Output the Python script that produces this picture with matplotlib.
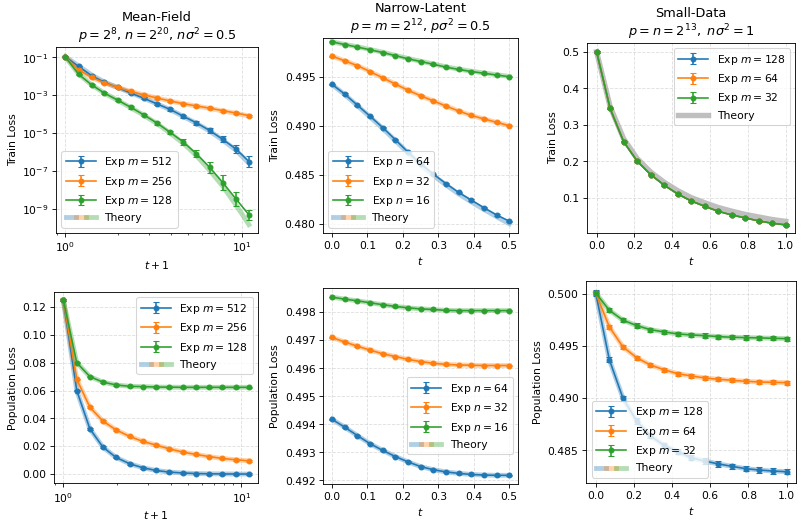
import matplotlib
matplotlib.use("Agg")
import matplotlib.pyplot as plt
import numpy as np
from matplotlib.lines import Line2D
from matplotlib.legend_handler import HandlerTuple

# ---------------- data ----------------
colors = ["C0", "C1", "C2"]

# Mean-Field (x = t+1, log scale)
mf_x = [1.0, 1.19, 1.41, 1.67, 1.98, 2.36, 2.80, 3.32, 3.94, 4.68, 5.55, 6.59, 7.82, 9.27, 11.0]
mf_labels = ["Exp $m=512$", "Exp $m=256$", "Exp $m=128$"]
mf_train = [
    [1.1e-1, 3.4e-2, 1.1e-2, 4.8e-3, 2.6e-3, 1.3e-3, 6.9e-4, 3.5e-4, 1.8e-4, 7.8e-5, 3.5e-5, 1.4e-5, 4.7e-6, 1.5e-6, 3.2e-7],
    [1.1e-1, 2.2e-2, 8.9e-3, 4.5e-3, 2.6e-3, 1.6e-3, 1.05e-3, 7.2e-4, 5.0e-4, 3.6e-4, 2.75e-4, 2.1e-4, 1.55e-4, 1.17e-4, 8.5e-5],
    [1.1e-1, 1.3e-2, 3.6e-3, 1.3e-3, 5.6e-4, 2.3e-4, 9.1e-5, 3.4e-5, 1.1e-5, 3.4e-6, 8.1e-7, 1.6e-7, 2.5e-8, 3.5e-9, 5.0e-10],
]
# error half-widths in decades
mf_train_err = [
    [0.02, 0.04, 0.04, 0.04, 0.04, 0.05, 0.05, 0.06, 0.07, 0.08, 0.10, 0.12, 0.16, 0.20, 0.30],
    [0.02, 0.03, 0.03, 0.03, 0.03, 0.03, 0.03, 0.03, 0.04, 0.04, 0.04, 0.04, 0.05, 0.05, 0.05],
    [0.02, 0.03, 0.04, 0.05, 0.05, 0.06, 0.07, 0.08, 0.10, 0.14, 0.18, 0.30, 0.38, 0.36, 0.26],
]
mf_train_th = [
    [1.1e-1, 3.6e-2, 1.2e-2, 5.0e-3, 2.6e-3, 1.35e-3, 7.0e-4, 3.5e-4, 1.75e-4, 7.6e-5, 3.3e-5, 1.3e-5, 4.3e-6, 1.3e-6, 2.6e-7],
    [1.1e-1, 2.3e-2, 9.0e-3, 4.5e-3, 2.6e-3, 1.6e-3, 1.05e-3, 7.2e-4, 5.0e-4, 3.6e-4, 2.7e-4, 2.05e-4, 1.5e-4, 1.13e-4, 8.2e-5],
    [1.1e-1, 1.35e-2, 3.6e-3, 1.3e-3, 5.5e-4, 2.2e-4, 8.7e-5, 3.2e-5, 1.0e-5, 2.9e-6, 6.5e-7, 1.1e-7, 1.6e-8, 1.7e-9, 1.5e-10],
]
mf_pop = [
    [0.125, 0.060, 0.0325, 0.0193, 0.0119, 0.0074, 0.0045, 0.0026, 0.0014, 0.0008, 0.0004, 0.0002, 0.0001, 0.00005, 0.0],
    [0.125, 0.068, 0.048, 0.038, 0.0317, 0.0270, 0.0234, 0.0208, 0.0181, 0.0158, 0.0141, 0.0126, 0.0112, 0.0103, 0.0095],
    [0.125, 0.080, 0.070, 0.066, 0.064, 0.063, 0.0628, 0.0625, 0.0624, 0.0623, 0.0623, 0.0623, 0.0623, 0.0623, 0.0623],
]
mf_pop_err = [0.0006, 0.0006, 0.0005]

# Narrow-Latent (x = t)
nl_x = [0.0, 0.0357, 0.0714, 0.1071, 0.1429, 0.1786, 0.2143, 0.25, 0.2857, 0.3214, 0.3571, 0.3929, 0.4286, 0.4643, 0.5]
nl_labels = ["Exp $n=64$", "Exp $n=32$", "Exp $n=16$"]
nl_train = [
    [0.49422, 0.49323, 0.49210, 0.49097, 0.48981, 0.48857, 0.48730, 0.48610, 0.48505, 0.48409, 0.48318, 0.48240, 0.48162, 0.48088, 0.48025],
    [0.49711, 0.49662, 0.49613, 0.49553, 0.49489, 0.49425, 0.49362, 0.49305, 0.49253, 0.49200, 0.49150, 0.49104, 0.49069, 0.49034, 0.48999],
    [0.49856, 0.49828, 0.49803, 0.49775, 0.49747, 0.49715, 0.49683, 0.49655, 0.49627, 0.49598, 0.49574, 0.49553, 0.49535, 0.49517, 0.49500],
]
nl_train_th = [
    [0.49420, 0.49318, 0.49205, 0.49090, 0.48972, 0.48848, 0.48722, 0.48600, 0.48493, 0.48395, 0.48303, 0.48222, 0.48144, 0.48070, 0.47998],
    [0.49711, 0.49662, 0.49613, 0.49553, 0.49489, 0.49425, 0.49362, 0.49305, 0.49253, 0.49200, 0.49150, 0.49104, 0.49069, 0.49034, 0.48999],
    [0.49856, 0.49830, 0.49806, 0.49778, 0.49750, 0.49718, 0.49686, 0.49658, 0.49630, 0.49601, 0.49577, 0.49556, 0.49538, 0.49520, 0.49502],
]
nl_train_err = [0.00006, 0.00005, 0.00004]
nl_pop = [
    [0.49418, 0.49390, 0.49360, 0.49331, 0.49307, 0.49285, 0.49266, 0.49249, 0.49238, 0.49230, 0.49225, 0.49221, 0.49219, 0.49218, 0.49218],
    [0.49710, 0.49694, 0.49679, 0.49665, 0.49652, 0.49642, 0.49632, 0.49624, 0.49618, 0.49614, 0.49612, 0.49611, 0.49610, 0.49610, 0.49610],
    [0.49854, 0.49847, 0.49841, 0.49834, 0.49827, 0.49821, 0.49816, 0.49812, 0.49810, 0.49807, 0.49806, 0.49806, 0.49806, 0.49806, 0.49806],
]
nl_pop_err = [0.000015, 0.000012, 0.00001]

# Small-Data (x = t)
sd_x = [0.0, 0.0714, 0.1429, 0.2143, 0.2857, 0.3571, 0.4286, 0.5, 0.5714, 0.6429, 0.7143, 0.7857, 0.8571, 0.9286, 1.0]
sd_labels = ["Exp $m=128$", "Exp $m=64$", "Exp $m=32$"]
sd_train = [0.500, 0.345, 0.254, 0.201, 0.164, 0.135, 0.111, 0.0918, 0.0773, 0.0636, 0.0536, 0.0455, 0.0373, 0.0309, 0.0264]
sd_train_th = [0.500, 0.350, 0.262, 0.208, 0.171, 0.143, 0.120, 0.101, 0.087, 0.074, 0.064, 0.055, 0.048, 0.041, 0.036]
sd_train_err = 0.002
sd_pop = [
    [0.50006, 0.49368, 0.48998, 0.48781, 0.48641, 0.48548, 0.48488, 0.48430, 0.48398, 0.48370, 0.48347, 0.48325, 0.48312, 0.48302, 0.48296],
    [0.50006, 0.49681, 0.49489, 0.49387, 0.49317, 0.49272, 0.49234, 0.49212, 0.49193, 0.49180, 0.49170, 0.49161, 0.49154, 0.49151, 0.49148],
    [0.50006, 0.49840, 0.49745, 0.49694, 0.49655, 0.49633, 0.49614, 0.49604, 0.49598, 0.49588, 0.49582, 0.49579, 0.49576, 0.49572, 0.49569],
]
sd_pop_err = [0.00025, 0.0002, 0.0002]

# ---------------- figure ----------------
DPI = 77.5
W, H = 804, 521
fig = plt.figure(figsize=((W + 0.2) / DPI, (H + 0.2) / DPI), dpi=DPI)


def add_ax(left, right, top, bottom):
    return fig.add_axes([left / W, 1 - bottom / H, (right - left) / W, (bottom - top) / H])


ax_tl = add_ax(56, 258, 47, 233)
ax_tm = add_ax(323, 518, 38, 233)
ax_tr = add_ax(587, 795, 43, 233)
ax_bl = add_ax(54, 258, 292, 483)
ax_bm = add_ax(323, 518, 288, 484)
ax_br = add_ax(586, 796, 281, 483)

TH_LW = 4.5
TH_ALPHA = 0.35
MS = 4.5


def theory_handle():
    return tuple(Line2D([], [], color=c, lw=TH_LW, alpha=TH_ALPHA) for c in colors)


def draw(ax, x, ys, errs, ths, labels):
    for y, th, c in zip(ys, ths, colors):
        ax.plot(x, th, color=c, lw=TH_LW, alpha=TH_ALPHA, zorder=1)
    handles = []
    for y, e, c, lab in zip(ys, errs, colors, labels):
        h = ax.errorbar(x, y, yerr=e, fmt="o-", color=c, ms=MS, lw=1.5, capsize=3, label=lab, zorder=3)
        handles.append(h)
    return handles


def finish(ax, handles, th_handle, **legkw):
    ax.grid(True, linestyle="--", alpha=0.4)
    ax.legend(handles + [th_handle], [h.get_label() for h in handles] + ["Theory"],
              handler_map={tuple: HandlerTuple(ndivide=None, pad=0)}, handlelength=2.8, **legkw)


# Mean-Field train (log-log)
mf_tr_err = []
for y, e in zip(mf_train, mf_train_err):
    y = np.array(y)
    e = np.array(e)
    mf_tr_err.append([y - y * 10 ** (-e), y * 10 ** e - y])
h = draw(ax_tl, mf_x, mf_train, mf_tr_err, mf_train_th, mf_labels)
ax_tl.set_xscale("log")
ax_tl.set_yscale("log")
ax_tl.set_yticks([1e-1, 1e-3, 1e-5, 1e-7, 1e-9])
ax_tl.set_ylim(10 ** -10.26, 10 ** -0.44)
ax_tl.set_title("Mean-Field\n$p=2^8$, $n=2^{20}$, $n\\sigma^2=0.5$")
ax_tl.set_xlabel("$t+1$")
ax_tl.set_ylabel("Train Loss")
finish(ax_tl, h, theory_handle(), loc="lower left")

# Mean-Field population
h = draw(ax_bl, mf_x, mf_pop, mf_pop_err, mf_pop, mf_labels)
ax_bl.set_xscale("log")
ax_bl.set_ylim(-0.0064, 0.1308)
ax_bl.set_xlabel("$t+1$")
ax_bl.set_ylabel("Population Loss")
finish(ax_bl, h, theory_handle(), loc="upper right")

# Narrow-Latent train
h = draw(ax_tm, nl_x, nl_train, nl_train_err, nl_train_th, nl_labels)
ax_tm.set_ylim(0.47905, 0.49897)
ax_tm.set_yticks([0.480, 0.485, 0.490, 0.495])
ax_tm.set_title("Narrow-Latent\n$p=m=2^{12}$, $p\\sigma^2=0.5$")
ax_tm.set_xlabel("$t$")
ax_tm.set_ylabel("Train Loss")
finish(ax_tm, h, theory_handle(), loc="lower left")

# Narrow-Latent population
h = draw(ax_bm, nl_x, nl_pop, nl_pop_err, nl_pop, nl_labels)
ax_bm.set_ylim(0.49187, 0.49887)
ax_bm.set_xlabel("$t$")
ax_bm.set_ylabel("Population Loss")
finish(ax_bm, h, theory_handle(), loc="lower right", bbox_to_anchor=(1.0, 0.125))

# Small-Data train (all three runs coincide)
ax_tr.plot(sd_x, sd_train_th, color="gray", lw=TH_LW + 0.5, alpha=0.5, zorder=1)
h = []
for c, lab in zip(colors, sd_labels):
    h.append(ax_tr.errorbar(sd_x, sd_train, yerr=sd_train_err, fmt="o-", color=c, ms=MS, lw=1.5,
                            capsize=3, label=lab, zorder=3))
ax_tr.set_ylim(0.0045, 0.5245)
ax_tr.set_title("Small-Data\n$p=n=2^{13},\\ n\\sigma^2=1$")
ax_tr.set_xlabel("$t$")
ax_tr.set_ylabel("Train Loss")
finish(ax_tr, h, Line2D([], [], color="gray", lw=TH_LW + 0.5, alpha=0.5), loc="upper right")

# Small-Data population
h = draw(ax_br, sd_x, sd_pop, sd_pop_err, sd_pop, sd_labels)
ax_br.set_ylim(0.48188, 0.50121)
ax_br.set_yticks([0.485, 0.490, 0.495, 0.500])
ax_br.set_xlabel("$t$")
ax_br.set_ylabel("Population Loss")
finish(ax_br, h, theory_handle(), loc="lower left")

fig.savefig("out.png", dpi=DPI)
